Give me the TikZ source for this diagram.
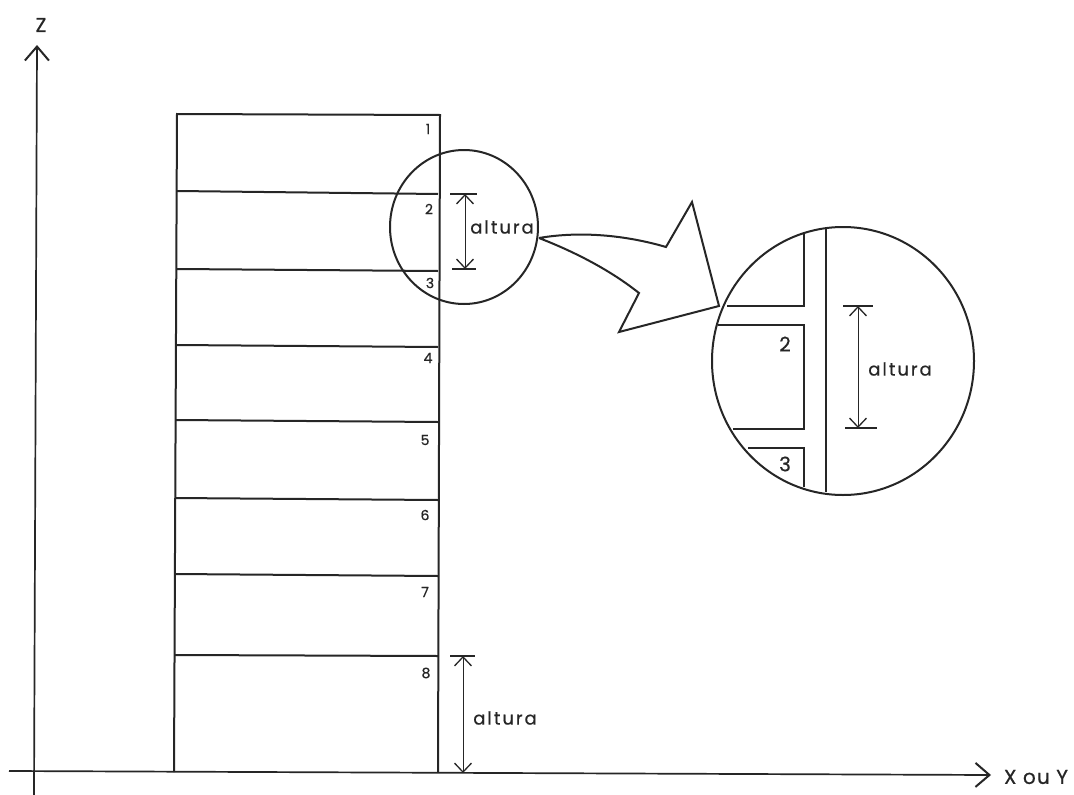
\documentclass[tikz,border=0pt]{standalone}
\usepackage{fontspec}
\setmainfont{Poppins}[FakeBold=0.6]
\newfontfamily\spaced{Poppins}[FakeBold=0.6,LetterSpace=11]
\newfontfamily\spacedaxis{Poppins}[FakeBold=0.6,LetterSpace=6]
\usetikzlibrary{arrows.meta,shapes.geometric}
\definecolor{ink}{HTML}{262626}
\tikzset{
  x=1pt,y=-1pt,
  wall/.style={draw=ink,line width=2pt},
  thin dim/.style={draw=ink,line width=1.3pt},
  axisline/.style={draw=ink,line width=1.7pt,-{Straight Barb[length=14pt,width=24pt,line width=2pt]}},
  dimline/.style={draw=ink,line width=1pt,{Straight Barb[length=9pt,width=17pt,line width=1.3pt]}-{Straight Barb[length=9pt,width=17pt,line width=1.3pt]}},
  lens/.style={ellipse,draw=ink,line width=2pt,inner sep=0pt,outer sep=0pt},
  lbl/.style={text=ink,inner sep=0pt,font=\spaced\fontsize{18}{18}\selectfont},
  axlbl/.style={text=ink,inner sep=0pt,font=\spacedaxis\fontsize{20}{20}\selectfont},
  num/.style={text=ink,inner sep=0pt,font=\fontsize{14}{14}\selectfont},
  bignum/.style={text=ink,inner sep=0pt,font=\fontsize{20}{20}\selectfont},
}
\begin{document}
\begin{tikzpicture}
\useasboundingbox[fill=white] (0,0) rectangle (1074,795);
% axes
\coordinate (zbase) at (34,795); \coordinate (ztip) at (37,45);
\coordinate (xbase) at (9,771); \coordinate (xtip) at (991,775);
\draw[axisline] (zbase) -- (ztip);
\draw[axisline] (xbase) -- (xtip);
\node[axlbl] (zlab) at (41,25) {Z};
\node[axlbl] (xlab) at (1036,777) {X ou Y};
% building
\coordinate (tl) at (177,114); \coordinate (tr) at (440,115);
\coordinate (bl) at (174,772); \coordinate (br) at (438,772);
\draw[wall] (bl) -- (tl) -- (tr) -- (br);
\draw[wall] (177,191) -- (438,194);
\draw[wall] (177,269) -- (438,271);
\draw[wall] (176,345) -- (438,347);
\draw[wall] (176,420) -- (438,422);
\draw[wall] (175,498) -- (438,500);
\draw[wall] (175,574) -- (438,576);
\draw[wall] (175,655) -- (438,656);
\node[num] (n1) at (428,129) {1};
\node[num] (n2) at (429,209) {2};
\node[num] (n3) at (430,283) {3};
\node[num] (n4) at (428,358) {4};
\node[num] (n5) at (425,440) {5};
\node[num] (n6) at (425,515) {6};
\node[num] (n7) at (425,592) {7};
\node[num] (n8) at (426,673) {8};
% small lens
\node[lens,minimum width=148pt,minimum height=154pt] (small) at (464,227) {};
\coordinate (s1) at (465,194); \coordinate (s2) at (465,269);
\draw[thin dim] (450,194) -- (477,194);
\draw[thin dim] (452,269) -- (476,269);
\draw[dimline] (s1) -- (s2);
\node[lbl] (altA) at (502,227) {altura};
% lower dimension
\coordinate (b1) at (463,656); \coordinate (b2) at (463,773);
\draw[thin dim] (450,656) -- (475,656);
\draw[dimline] (b1) -- (b2);
\node[lbl] (altB) at (505,718) {altura};
% pointer arrow
\coordinate (p0) at (539,238); \coordinate (p1) at (666,247);
\coordinate (p2) at (692,202); \coordinate (p3) at (719,306);
\coordinate (p4) at (619,332); \coordinate (p5) at (639,293);
\draw[wall,fill=white,line join=miter]
  (p0) .. controls (580,231) and (625,235) .. (p1)
  -- (p2) -- (p3) -- (p4) -- (p5)
  .. controls (610,270) and (575,252) .. (p0);
% large lens
\node[lens,minimum width=262pt,minimum height=268pt] (large) at (843,361) {};
\draw[wall] (804,234) -- (804,306) -- (727,306);
\draw[wall] (718,325) -- (804,325) -- (804,429) -- (733,429);
\draw[wall] (748,448) -- (804,448) -- (804,487);
\draw[wall] (826,229) -- (826,492);
\draw[thin dim] (843,306) -- (873,306);
\draw[thin dim] (845,428) -- (877,428);
\coordinate (l1) at (858,306); \coordinate (l2) at (858,428);
\draw[dimline] (l1) -- (l2);
\node[lbl] (altC) at (900,369) {altura};
\node[bignum] (big2) at (785,344) {2};
\node[bignum] (big3) at (785,464) {3};
\end{tikzpicture}
\end{document}
